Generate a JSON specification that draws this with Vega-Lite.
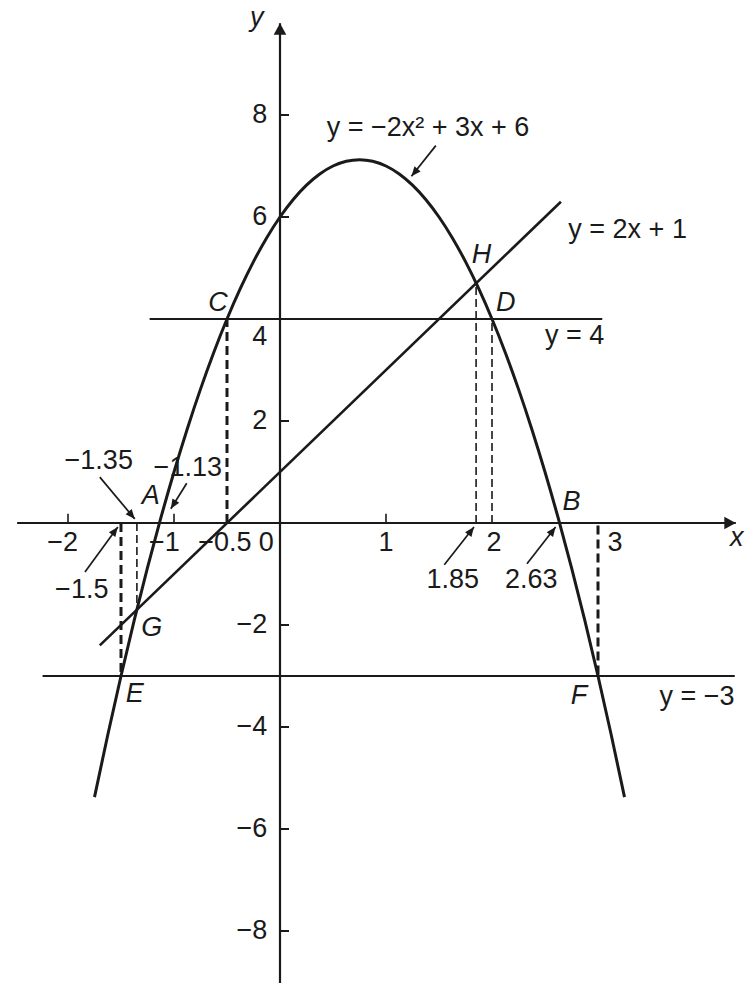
{
  "$schema": "https://vega.github.io/schema/vega-lite/v6.json",
  "width": 755,
  "height": 993,
  "autosize": {"type": "fit", "contains": "padding"},
  "padding": 0,
  "background": "white",
  "config": {"view": {"stroke": null}, "text": {"font": "Liberation Sans", "fontSize": 27, "color": "#1a1a1a", "baseline": "middle"}},
  "datasets": {
    "curve": [
      {"x": -1.75, "y": -5.375}, {"x": -1.625, "y": -4.15625}, {"x": -1.5, "y": -3}, {"x": -1.375, "y": -1.90625},
      {"x": -1.25, "y": -0.875}, {"x": -1.125, "y": 0.09375}, {"x": -1, "y": 1}, {"x": -0.875, "y": 1.84375},
      {"x": -0.75, "y": 2.625}, {"x": -0.625, "y": 3.34375}, {"x": -0.5, "y": 4}, {"x": -0.375, "y": 4.59375},
      {"x": -0.25, "y": 5.125}, {"x": -0.125, "y": 5.59375}, {"x": 0, "y": 6}, {"x": 0.125, "y": 6.34375},
      {"x": 0.25, "y": 6.625}, {"x": 0.375, "y": 6.84375}, {"x": 0.5, "y": 7}, {"x": 0.625, "y": 7.09375},
      {"x": 0.75, "y": 7.125}, {"x": 0.875, "y": 7.09375}, {"x": 1, "y": 7}, {"x": 1.125, "y": 6.84375},
      {"x": 1.25, "y": 6.625}, {"x": 1.375, "y": 6.34375}, {"x": 1.5, "y": 6}, {"x": 1.625, "y": 5.59375},
      {"x": 1.75, "y": 5.125}, {"x": 1.875, "y": 4.59375}, {"x": 2, "y": 4}, {"x": 2.125, "y": 3.34375},
      {"x": 2.25, "y": 2.625}, {"x": 2.375, "y": 1.84375}, {"x": 2.5, "y": 1}, {"x": 2.625, "y": 0.09375},
      {"x": 2.75, "y": -0.875}, {"x": 2.875, "y": -1.90625}, {"x": 3, "y": -3}, {"x": 3.125, "y": -4.15625},
      {"x": 3.25, "y": -5.375}
    ],
    "straight": [{"x": -1.7, "y": -2.4}, {"x": 2.65, "y": 6.3}],
    "hlines": [{"x": -1.23, "x2": 3.04, "y": 4}, {"x": -2.24, "x2": 4.29, "y": -3}],
    "dashThick": [{"x": -1.5, "y": 0, "y2": -3}, {"x": -0.5, "y": 0, "y2": 4}, {"x": 3, "y": -0.05, "y2": -3}],
    "dashThin": [{"x": -1.35, "y": 0, "y2": -1.7}, {"x": 1.85, "y": 0, "y2": 4.7}, {"x": 2, "y": 0, "y2": 4}],
    "axes": [{"x": -2.48, "y": 0, "x2": 4.3, "y2": 0}, {"x": 0, "y": -9.02, "x2": 0, "y2": 9.8}],
    "yTicks": [{"x": 0, "x2": 0.085, "y": 8}, {"x": 0, "x2": 0.085, "y": 6}, {"x": 0, "x2": 0.085, "y": 2}, {"x": 0, "x2": 0.085, "y": -2}, {"x": 0, "x2": 0.085, "y": -4}, {"x": 0, "x2": 0.085, "y": -6}, {"x": 0, "x2": 0.085, "y": -8}],
    "xTicks": [{"x": -2, "y": 0, "y2": 0.18}, {"x": -1, "y": 0, "y2": 0.18}, {"x": 1, "y": 0, "y2": 0.18}],
    "arrows": [
      {"name": "curve", "x": 1.47, "y": 7.4, "x2": 1.24, "y2": 6.8},
      {"name": "a135", "x": -1.7, "y": 0.9, "x2": -1.37, "y2": 0.08},
      {"name": "a113", "x": -0.88, "y": 0.78, "x2": -1.03, "y2": 0.28},
      {"name": "a15", "x": -1.84, "y": -0.96, "x2": -1.53, "y2": -0.08},
      {"name": "a185", "x": 1.55, "y": -0.82, "x2": 1.83, "y2": -0.08},
      {"name": "a263", "x": 2.33, "y": -0.8, "x2": 2.6, "y2": -0.08}
    ],
    "yTickLabels": [
      {"x": -0.12, "y": 8, "text": "8"}, {"x": -0.12, "y": 6, "text": "6"}, {"x": -0.12, "y": 3.65, "text": "4"},
      {"x": -0.12, "y": 2, "text": "2"}, {"x": -0.12, "y": -2, "text": "−2"}, {"x": -0.12, "y": -4, "text": "−4"},
      {"x": -0.12, "y": -6, "text": "−6"}, {"x": -0.12, "y": -8, "text": "−8"}
    ],
    "xTickLabels": [
      {"x": -2.05, "y": -0.4, "text": "−2"}, {"x": -1.09, "y": -0.4, "text": "−1"}, {"x": -0.52, "y": -0.4, "text": "−0.5"},
      {"x": -0.13, "y": -0.4, "text": "0"}, {"x": 1, "y": -0.4, "text": "1"}, {"x": 2.02, "y": -0.4, "text": "2"}, {"x": 3.16, "y": -0.4, "text": "3"}
    ],
    "valueLabels": [
      {"x": -1.71, "y": 1.22, "text": "−1.35"}, {"x": -0.87, "y": 1.08, "text": "−1.13"}, {"x": -1.87, "y": -1.31, "text": "−1.5"},
      {"x": 1.63, "y": -1.12, "text": "1.85"}, {"x": 2.37, "y": -1.12, "text": "2.63"}
    ],
    "equations": [
      {"x": 0.44, "y": 7.75, "text": "y = −2x² + 3x + 6"}, {"x": 2.72, "y": 5.75, "text": "y = 2x + 1"},
      {"x": 2.5, "y": 3.67, "text": "y = 4"}, {"x": 3.58, "y": -3.41, "text": "y = −3"}
    ],
    "points": [
      {"x": 1.9, "y": 5.25, "text": "H"}, {"x": 2.13, "y": 4.31, "text": "D"}, {"x": -0.585, "y": 4.31, "text": "C"},
      {"x": -1.22, "y": 0.53, "text": "A"}, {"x": -1.21, "y": -2.05, "text": "G"}, {"x": -1.37, "y": -3.36, "text": "E"},
      {"x": 2.75, "y": 0.41, "text": "B"}, {"x": 2.82, "y": -3.39, "text": "F"},
      {"x": -0.22, "y": 9.9, "text": "y"}, {"x": 4.31, "y": -0.29, "text": "x"}
    ]
  },
  "encoding": {
    "x": {"field": "x", "type": "quantitative", "scale": {"domain": [-2.6415, 4.4811], "nice": false, "zero": false}, "axis": null},
    "y": {"field": "y", "type": "quantitative", "scale": {"domain": [-9.2157, 10.2549], "nice": false, "zero": false}, "axis": null}
  },
  "layer": [
    {"data": {"name": "hlines"}, "mark": {"type": "rule", "color": "#1a1a1a", "strokeWidth": 2}, "encoding": {"x2": {"field": "x2"}}},
    {"data": {"name": "straight"}, "mark": {"type": "line", "color": "#1a1a1a", "strokeWidth": 2.6}, "encoding": {}},
    {"data": {"name": "curve"}, "mark": {"type": "line", "color": "#1a1a1a", "strokeWidth": 3, "interpolate": "monotone"}, "encoding": {}},
    {"data": {"name": "dashThick"}, "mark": {"type": "rule", "color": "#1a1a1a", "strokeWidth": 3, "strokeDash": [9, 5]}, "encoding": {"y2": {"field": "y2"}}},
    {"data": {"name": "dashThin"}, "mark": {"type": "rule", "color": "#1a1a1a", "strokeWidth": 1.6, "strokeDash": [8, 4]}, "encoding": {"y2": {"field": "y2"}}},
    {"data": {"name": "axes"}, "mark": {"type": "rule", "color": "#1a1a1a", "strokeWidth": 2.2}, "encoding": {"x2": {"field": "x2"}, "y2": {"field": "y2"}}},
    {"data": {"name": "axes"}, "transform": [{"filter": "datum.y2 == 0"}], "mark": {"type": "point", "shape": "M0,0L0.55,1L-0.55,1Z", "size": 529, "angle": 90, "filled": true, "color": "#1a1a1a", "opacity": 1}, "encoding": {"x": {"field": "x2", "type": "quantitative"}, "y": {"field": "y2", "type": "quantitative"}}},
    {"data": {"name": "axes"}, "transform": [{"filter": "datum.x2 == 0"}], "mark": {"type": "point", "shape": "M0,0L0.55,1L-0.55,1Z", "size": 529, "angle": 0, "filled": true, "color": "#1a1a1a", "opacity": 1}, "encoding": {"x": {"field": "x2", "type": "quantitative"}, "y": {"field": "y2", "type": "quantitative"}}},
    {"data": {"name": "yTicks"}, "mark": {"type": "rule", "color": "#1a1a1a", "strokeWidth": 2}, "encoding": {"x2": {"field": "x2"}}},
    {"data": {"name": "xTicks"}, "mark": {"type": "rule", "color": "#1a1a1a", "strokeWidth": 1.6}, "encoding": {"y2": {"field": "y2"}}},
    {"data": {"name": "arrows"}, "mark": {"type": "rule", "color": "#1a1a1a", "strokeWidth": 1.7}, "encoding": {"x2": {"field": "x2"}, "y2": {"field": "y2"}}},
    {"data": {"name": "arrows"}, "transform": [{"filter": "datum.name == 'curve'"}], "mark": {"type": "point", "shape": "M0,0L0.42,1L-0.42,1Z", "size": 361, "angle": 220, "filled": true, "color": "#1a1a1a", "opacity": 1}, "encoding": {"x": {"field": "x2", "type": "quantitative"}, "y": {"field": "y2", "type": "quantitative"}}},
    {"data": {"name": "arrows"}, "transform": [{"filter": "datum.name == 'a135'"}], "mark": {"type": "point", "shape": "M0,0L0.42,1L-0.42,1Z", "size": 361, "angle": 140, "filled": true, "color": "#1a1a1a", "opacity": 1}, "encoding": {"x": {"field": "x2", "type": "quantitative"}, "y": {"field": "y2", "type": "quantitative"}}},
    {"data": {"name": "arrows"}, "transform": [{"filter": "datum.name == 'a113'"}], "mark": {"type": "point", "shape": "M0,0L0.42,1L-0.42,1Z", "size": 361, "angle": 212, "filled": true, "color": "#1a1a1a", "opacity": 1}, "encoding": {"x": {"field": "x2", "type": "quantitative"}, "y": {"field": "y2", "type": "quantitative"}}},
    {"data": {"name": "arrows"}, "transform": [{"filter": "datum.name == 'a15' || datum.name == 'a185' || datum.name == 'a263'"}], "mark": {"type": "point", "shape": "M0,0L0.42,1L-0.42,1Z", "size": 361, "angle": 37, "filled": true, "color": "#1a1a1a", "opacity": 1}, "encoding": {"x": {"field": "x2", "type": "quantitative"}, "y": {"field": "y2", "type": "quantitative"}}},
    {"data": {"name": "yTickLabels"}, "mark": {"type": "text", "align": "right"}, "encoding": {"text": {"field": "text"}}},
    {"data": {"name": "xTickLabels"}, "mark": {"type": "text", "align": "center"}, "encoding": {"text": {"field": "text"}}},
    {"data": {"name": "valueLabels"}, "mark": {"type": "text", "align": "center"}, "encoding": {"text": {"field": "text"}}},
    {"data": {"name": "equations"}, "mark": {"type": "text", "align": "left"}, "encoding": {"text": {"field": "text"}}},
    {"data": {"name": "points"}, "mark": {"type": "text", "align": "center", "fontStyle": "italic"}, "encoding": {"text": {"field": "text"}}}
  ]
}
